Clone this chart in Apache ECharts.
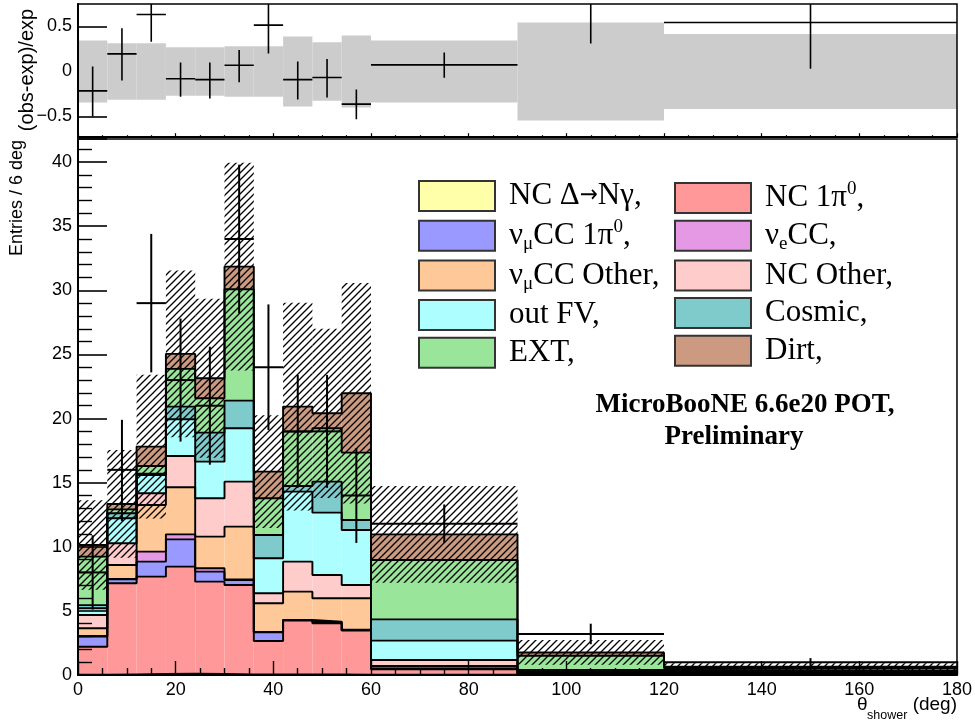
<!DOCTYPE html>
<html><head><meta charset="utf-8">
<script src="https://cdn.jsdelivr.net/npm/echarts@6/dist/echarts.min.js"></script>
<style>html,body{margin:0;padding:0;background:#fff;}#c{width:975px;height:722px;}</style>
</head><body><div id="c"></div>
<script>
// ---- data ----
const binEdges = [0, 6, 12, 18, 24, 30, 36, 42, 48, 54, 60, 90, 120, 180];
const layerNames = ['NC Δ→Nγ', 'NC 1π0', 'νμCC 1π0', 'νeCC', 'νμCC Other', 'NC Other', 'out FV', 'Cosmic', 'EXT', 'Dirt'];
const layerColors = ['#ffffaa', '#ff9999', '#9999ff', '#e599e5', '#ffc899', '#ffcccc', '#adffff', '#7fcaca', '#99e599', '#cc9a80'];
const ncDeltaNGamma = [0.02, 0.05, 0.08, 0.10, 0.08, 0.05, 0.05, 0.05, 0.05, 0.03, 0.02, 0.01, 0.01];
const nc1pi0        = [2.18, 7.10, 7.59, 8.35, 7.20, 6.97, 2.60, 4.19, 3.98, 3.43, 0.42, 0.09, 0.07];
const numuCC1pi0    = [0.80, 0.31, 1.17, 2.13, 0.78, 0.39, 0.68, 0.05, 0.10, 0.05, 0.06, 0.04, 0.02];
const nueCC         = [0.05, 0.04, 0.78, 0.39, 0.26, 0.05, 0.03, 0.01, 0.02, 0.02, 0.02, 0.02, 0.01];
const numuCCOther   = [0.59, 1.08, 3.64, 3.67, 2.47, 4.11, 2.23, 2.20, 1.83, 2.45, 0.18, 0.06, 0.05];
const ncOther       = [1.04, 1.69, 0.91, 2.44, 2.99, 3.51, 0.78, 2.34, 1.82, 1.04, 0.47, 0.06, 0.06];
const outFV         = [0.52, 1.95, 1.43, 2.86, 2.86, 4.16, 2.73, 5.46, 4.86, 4.29, 1.51, 0.07, 0.08];
const cosmic        = [0.25, 0.39, 0.10, 0.99, 2.26, 2.16, 1.82, 0.44, 2.42, 0.78, 1.66, 0.05, 0.05];
const ext           = [3.78, 0.31, 0.60, 2.94, 2.68, 8.68, 2.86, 4.24, 4.16, 5.25, 4.63, 1.10, 0.20];
const dirt          = [0.91, 0.42, 1.51, 1.17, 1.56, 1.77, 2.08, 1.95, 1.17, 4.63, 2.00, 0.26, 0.10];
const mcErr         = [3.49, 4.20, 5.60, 6.50, 6.20, 8.10, 4.40, 8.10, 6.60, 8.60, 3.77, 0.96, 0.27];
const obs           = [8, 16, 29, 23, 21, 34, 24, 19, 19, 14, 11.8, 3.2, 1.0];
const obsLow        = [5.1, 12.0, 23.6, 18.2, 16.4, 28.2, 19.1, 14.6, 14.6, 10.3, 10.3, 2.4, 0.68];
const obsHigh       = [10.9, 19.9, 34.4, 27.8, 25.6, 39.8, 28.9, 23.4, 23.4, 17.7, 13.3, 4.0, 1.32];
const ratioBand     = [0.344, 0.315, 0.315, 0.27, 0.27, 0.28, 0.28, 0.39, 0.325, 0.40, 0.344, 0.544, 0.418];
const ratioVal      = [-0.215, 0.196, 0.633, -0.08, -0.09, 0.07, 0.515, -0.09, -0.067, -0.363, 0.074, 0.82, 0.544];
const ratioLow      = [-0.50, -0.10, 0.33, -0.28, -0.30, -0.12, 0.20, -0.31, -0.29, -0.53, -0.07, 0.31, 0.03];
const ratioHigh     = [0.055, 0.48, 0.93, 0.10, 0.10, 0.24, 0.83, 0.11, 0.14, -0.20, 0.21, 1.28, 1.10];
const xTicks = [0, 20, 40, 60, 80, 100, 120, 140, 160, 180];
const yTicks = [0, 5, 10, 15, 20, 25, 30, 35, 40];
const ratioTicks = [-0.5, 0, 0.5];

const layers = [ncDeltaNGamma, nc1pi0, numuCC1pi0, nueCC, numuCCOther, ncOther, outFV, cosmic, ext, dirt];
const nb = binEdges.length - 1;
let run = new Array(nb).fill(0);
const stacks = layers.map(arr => {
  const base = run.slice();
  run = run.map((v, i) => v + arr[i]);
  return { base, top: run.slice() };
});
const total = run;

const SANS = '"Liberation Sans", Arial, sans-serif';
const SERIF = '"Liberation Serif", "Times New Roman", serif';

function makeHatch() {
  const s = 7, c = document.createElement('canvas');
  c.width = s; c.height = s;
  const g = c.getContext('2d');
  g.strokeStyle = '#000'; g.lineWidth = 1.3; g.lineCap = 'square';
  g.beginPath();
  g.moveTo(0, s); g.lineTo(s, 0);
  g.moveTo(-1, 1); g.lineTo(1, -1);
  g.moveTo(s - 1, s + 1); g.lineTo(s + 1, s - 1);
  g.stroke();
  return c;
}
const hatch = { image: makeHatch(), repeat: 'repeat' };

function rectRender(fill) {
  return function (params, api) {
    const a = api.coord([api.value(0), api.value(2)]);
    const b = api.coord([api.value(1), api.value(3)]);
    return { type: 'rect', shape: { x: a[0], y: b[1], width: b[0] - a[0], height: a[1] - b[1] }, style: { fill: fill, stroke: null } };
  };
}
function crossRender(w) {
  return function (params, api) {
    const x0 = api.value(0), x1 = api.value(1), y = api.value(2), lo = api.value(3), hi = api.value(4);
    const xc = (x0 + x1) / 2;
    const pL = api.coord([x0, y]), pR = api.coord([x1, y]), pT = api.coord([xc, hi]), pB = api.coord([xc, lo]);
    return { type: 'group', children: [
      { type: 'line', shape: { x1: pL[0], y1: pL[1], x2: pR[0], y2: pR[1] }, style: { stroke: '#000', lineWidth: w } },
      { type: 'line', shape: { x1: pT[0], y1: pT[1], x2: pB[0], y2: pB[1] }, style: { stroke: '#000', lineWidth: w } }
    ] };
  };
}

const series = [];
// ratio band
series.push({ type: 'custom', xAxisIndex: 0, yAxisIndex: 0, z: 2, silent: true, clip: true,
  renderItem: rectRender('#cccccc'), encode: { x: [0, 1], y: [2, 3] },
  data: ratioBand.map((b, i) => [binEdges[i], binEdges[i + 1], -b, b]) });
series.push({ type: 'custom', xAxisIndex: 0, yAxisIndex: 0, z: 5, silent: true, clip: true,
  renderItem: crossRender(1.6), encode: { x: [0, 1], y: [2, 3, 4] },
  data: ratioVal.map((v, i) => [binEdges[i], binEdges[i + 1], v, ratioLow[i], ratioHigh[i]]) });
// stacked fills
stacks.forEach((st, k) => {
  series.push({ type: 'custom', name: layerNames[k], xAxisIndex: 1, yAxisIndex: 1, z: 2, silent: true, clip: true,
    itemStyle: { color: layerColors[k] },
    renderItem: rectRender(layerColors[k]), encode: { x: [0, 1], y: [2, 3] },
    data: st.top.map((t, i) => [binEdges[i], binEdges[i + 1], st.base[i], t]) });
});
// outlines
stacks.forEach((st) => {
  const pts = st.top.map((t, i) => [binEdges[i], t]);
  pts.push([binEdges[nb], st.top[nb - 1]]);
  series.push({ type: 'line', xAxisIndex: 1, yAxisIndex: 1, z: 3, silent: true, step: 'end', symbol: 'none',
    lineStyle: { color: '#000', width: 1.9 }, data: pts });
});
// hatched MC uncertainty
series.push({ type: 'custom', xAxisIndex: 1, yAxisIndex: 1, z: 4, silent: true, clip: true,
  renderItem: rectRender(hatch), encode: { x: [0, 1], y: [2, 3] },
  data: total.map((t, i) => [binEdges[i], binEdges[i + 1], Math.max(0, t - mcErr[i]), t + mcErr[i]]) });
// data points
series.push({ type: 'custom', xAxisIndex: 1, yAxisIndex: 1, z: 6, silent: true, clip: true,
  renderItem: crossRender(2), encode: { x: [0, 1], y: [2, 3, 4] },
  data: obs.map((v, i) => [binEdges[i], binEdges[i + 1], v, obsLow[i], obsHigh[i]]) });

function legendFmt(name) {
  const map = {
    'NC Δ→Nγ': '{n|NC Δ}{arr|→}{n|Nγ,}',
    'NC 1π0': '{n|NC 1π}{sup|0}{n|,}',
    'νμCC 1π0': '{n|ν}{sub|μ}{n|CC 1π}{sup|0}{n|,}',
    'νeCC': '{n|ν}{sub|e}{n|CC,}',
    'νμCC Other': '{n|ν}{sub|μ}{n|CC Other,}',
    'NC Other': '{n|NC Other,}',
    'out FV': '{n|out FV,}',
    'Cosmic': '{n|Cosmic,}',
    'EXT': '{n|EXT,}',
    'Dirt': '{n|Dirt,}'
  };
  return '{g| }' + map[name];
}
const richLegend = {
  g: { width: 9, fontSize: 30, fontFamily: SERIF },
  n: { fontSize: 31, fontFamily: SERIF, color: '#000', lineHeight: 36, verticalAlign: 'middle' },
  arr: { fontSize: 24, fontFamily: '"DejaVu Sans Condensed", "DejaVu Sans", sans-serif', color: '#000', lineHeight: 36, verticalAlign: 'middle' },
  sub: { fontSize: 19, fontFamily: SERIF, color: '#000', lineHeight: 18, verticalAlign: 'bottom' },
  sup: { fontSize: 19, fontFamily: SERIF, color: '#000', lineHeight: 18, verticalAlign: 'top' }
};
function legendCfg(left, names) {
  return { left: left, top: 180, orient: 'vertical', padding: 0, itemGap: 5.7, itemWidth: 76, itemHeight: 30,
    icon: 'rect', selectedMode: false, itemStyle: { borderColor: '#333', borderWidth: 2 },
    data: names, formatter: legendFmt, textStyle: { color: '#000', rich: richLegend } };
}

const axisLineStyle = { color: '#000', width: 2 };
const option = {
  animation: false,
  backgroundColor: '#fff',
  grid: [
    { left: 78, right: 18, top: 4, height: 133.2, show: true, borderColor: '#000', borderWidth: 1.5, backgroundColor: 'transparent', z: 10 },
    { left: 78, right: 18, top: 139, height: 536, show: true, borderColor: '#000', borderWidth: 1.5, backgroundColor: 'transparent', z: 10 }
  ],
  xAxis: [
    { type: 'value', gridIndex: 0, min: 0, max: 180, interval: 20, z: 10,
      axisLine: { show: true, onZero: false, lineStyle: axisLineStyle }, axisLabel: { show: false },
      axisTick: { inside: true, length: 4, lineStyle: { color: '#000', width: 1.2 } },
      minorTick: { show: true, splitNumber: 4, length: 2, lineStyle: { color: '#000', width: 1.2 } },
      splitLine: { show: false } },
    { type: 'value', gridIndex: 1, min: 0, max: 180, interval: 20, z: 10,
      axisLine: { show: true, onZero: false, lineStyle: axisLineStyle },
      axisLabel: { color: '#000', fontSize: 18, fontFamily: SANS, margin: 6, customValues: xTicks },
      axisTick: { inside: true, length: 14, lineStyle: { color: '#000', width: 1.4 } },
      minorTick: { show: true, splitNumber: 4, length: 7, lineStyle: { color: '#000', width: 1.4 } },
      splitLine: { show: false } }
  ],
  yAxis: [
    { type: 'value', gridIndex: 0, min: -0.73, max: 0.75, z: 10,
      axisLine: { show: true, onZero: false, lineStyle: axisLineStyle },
      axisLabel: { color: '#000', fontSize: 18, fontFamily: SANS, margin: 6, customValues: ratioTicks,
        formatter: v => (v < 0 ? '\u2212' + Math.abs(v) : String(v)) },
      axisTick: { inside: true, length: 29, customValues: [-0.5, 0.5], lineStyle: { color: '#000', width: 1.6 } },
      splitLine: { show: false } },
    { type: 'value', gridIndex: 1, min: 0, max: 41.8, interval: 5, z: 10,
      axisLine: { show: true, onZero: false, lineStyle: axisLineStyle },
      axisLabel: { color: '#000', fontSize: 18, fontFamily: SANS, margin: 6, customValues: yTicks },
      axisTick: { inside: true, length: 29, lineStyle: { color: '#000', width: 1.6 } },
      minorTick: { show: true, splitNumber: 5, length: 14, lineStyle: { color: '#000', width: 1.4 } },
      splitLine: { show: false } }
  ],
  legend: [
    legendCfg(418, [layerNames[0], layerNames[2], layerNames[4], layerNames[6], layerNames[8]]),
    legendCfg(674, [layerNames[1], layerNames[3], layerNames[5], layerNames[7], layerNames[9]])
  ],
  graphic: [
    { type: 'text', x: 17, y: 140, rotation: Math.PI / 2, style: { text: 'Entries / 6 deg', font: '18px ' + SANS, fill: '#000', align: 'right', verticalAlign: 'middle' } },
    { type: 'text', x: 27, y: 70, rotation: Math.PI / 2, style: { text: '(obs-exp)/exp', font: '20px ' + SANS, fill: '#000', align: 'center', verticalAlign: 'middle' } },
    { type: 'text', x: 745, y: 405, style: { text: 'MicroBooNE 6.6e20 POT,', font: 'bold 27px ' + SERIF, fill: '#000', align: 'center', verticalAlign: 'middle' } },
    { type: 'text', x: 734, y: 437, style: { text: 'Preliminary', font: 'bold 27px ' + SERIF, fill: '#000', align: 'center', verticalAlign: 'middle' } },
    { type: 'text', x: 857, y: 705, style: { text: 'θ', font: '19px ' + SANS, fill: '#000', align: 'left', verticalAlign: 'middle' } },
    { type: 'text', x: 867, y: 716, style: { text: 'shower', font: '12.5px ' + SANS, fill: '#000', align: 'left', verticalAlign: 'middle' } },
    { type: 'text', x: 957, y: 705, style: { text: '(deg)', font: '19px ' + SANS, fill: '#000', align: 'right', verticalAlign: 'middle' } }
  ],
  series: series
};
const chart = echarts.init(document.getElementById('c'), null, { renderer: 'canvas' });
chart.setOption(option);
</script>
</body></html>
